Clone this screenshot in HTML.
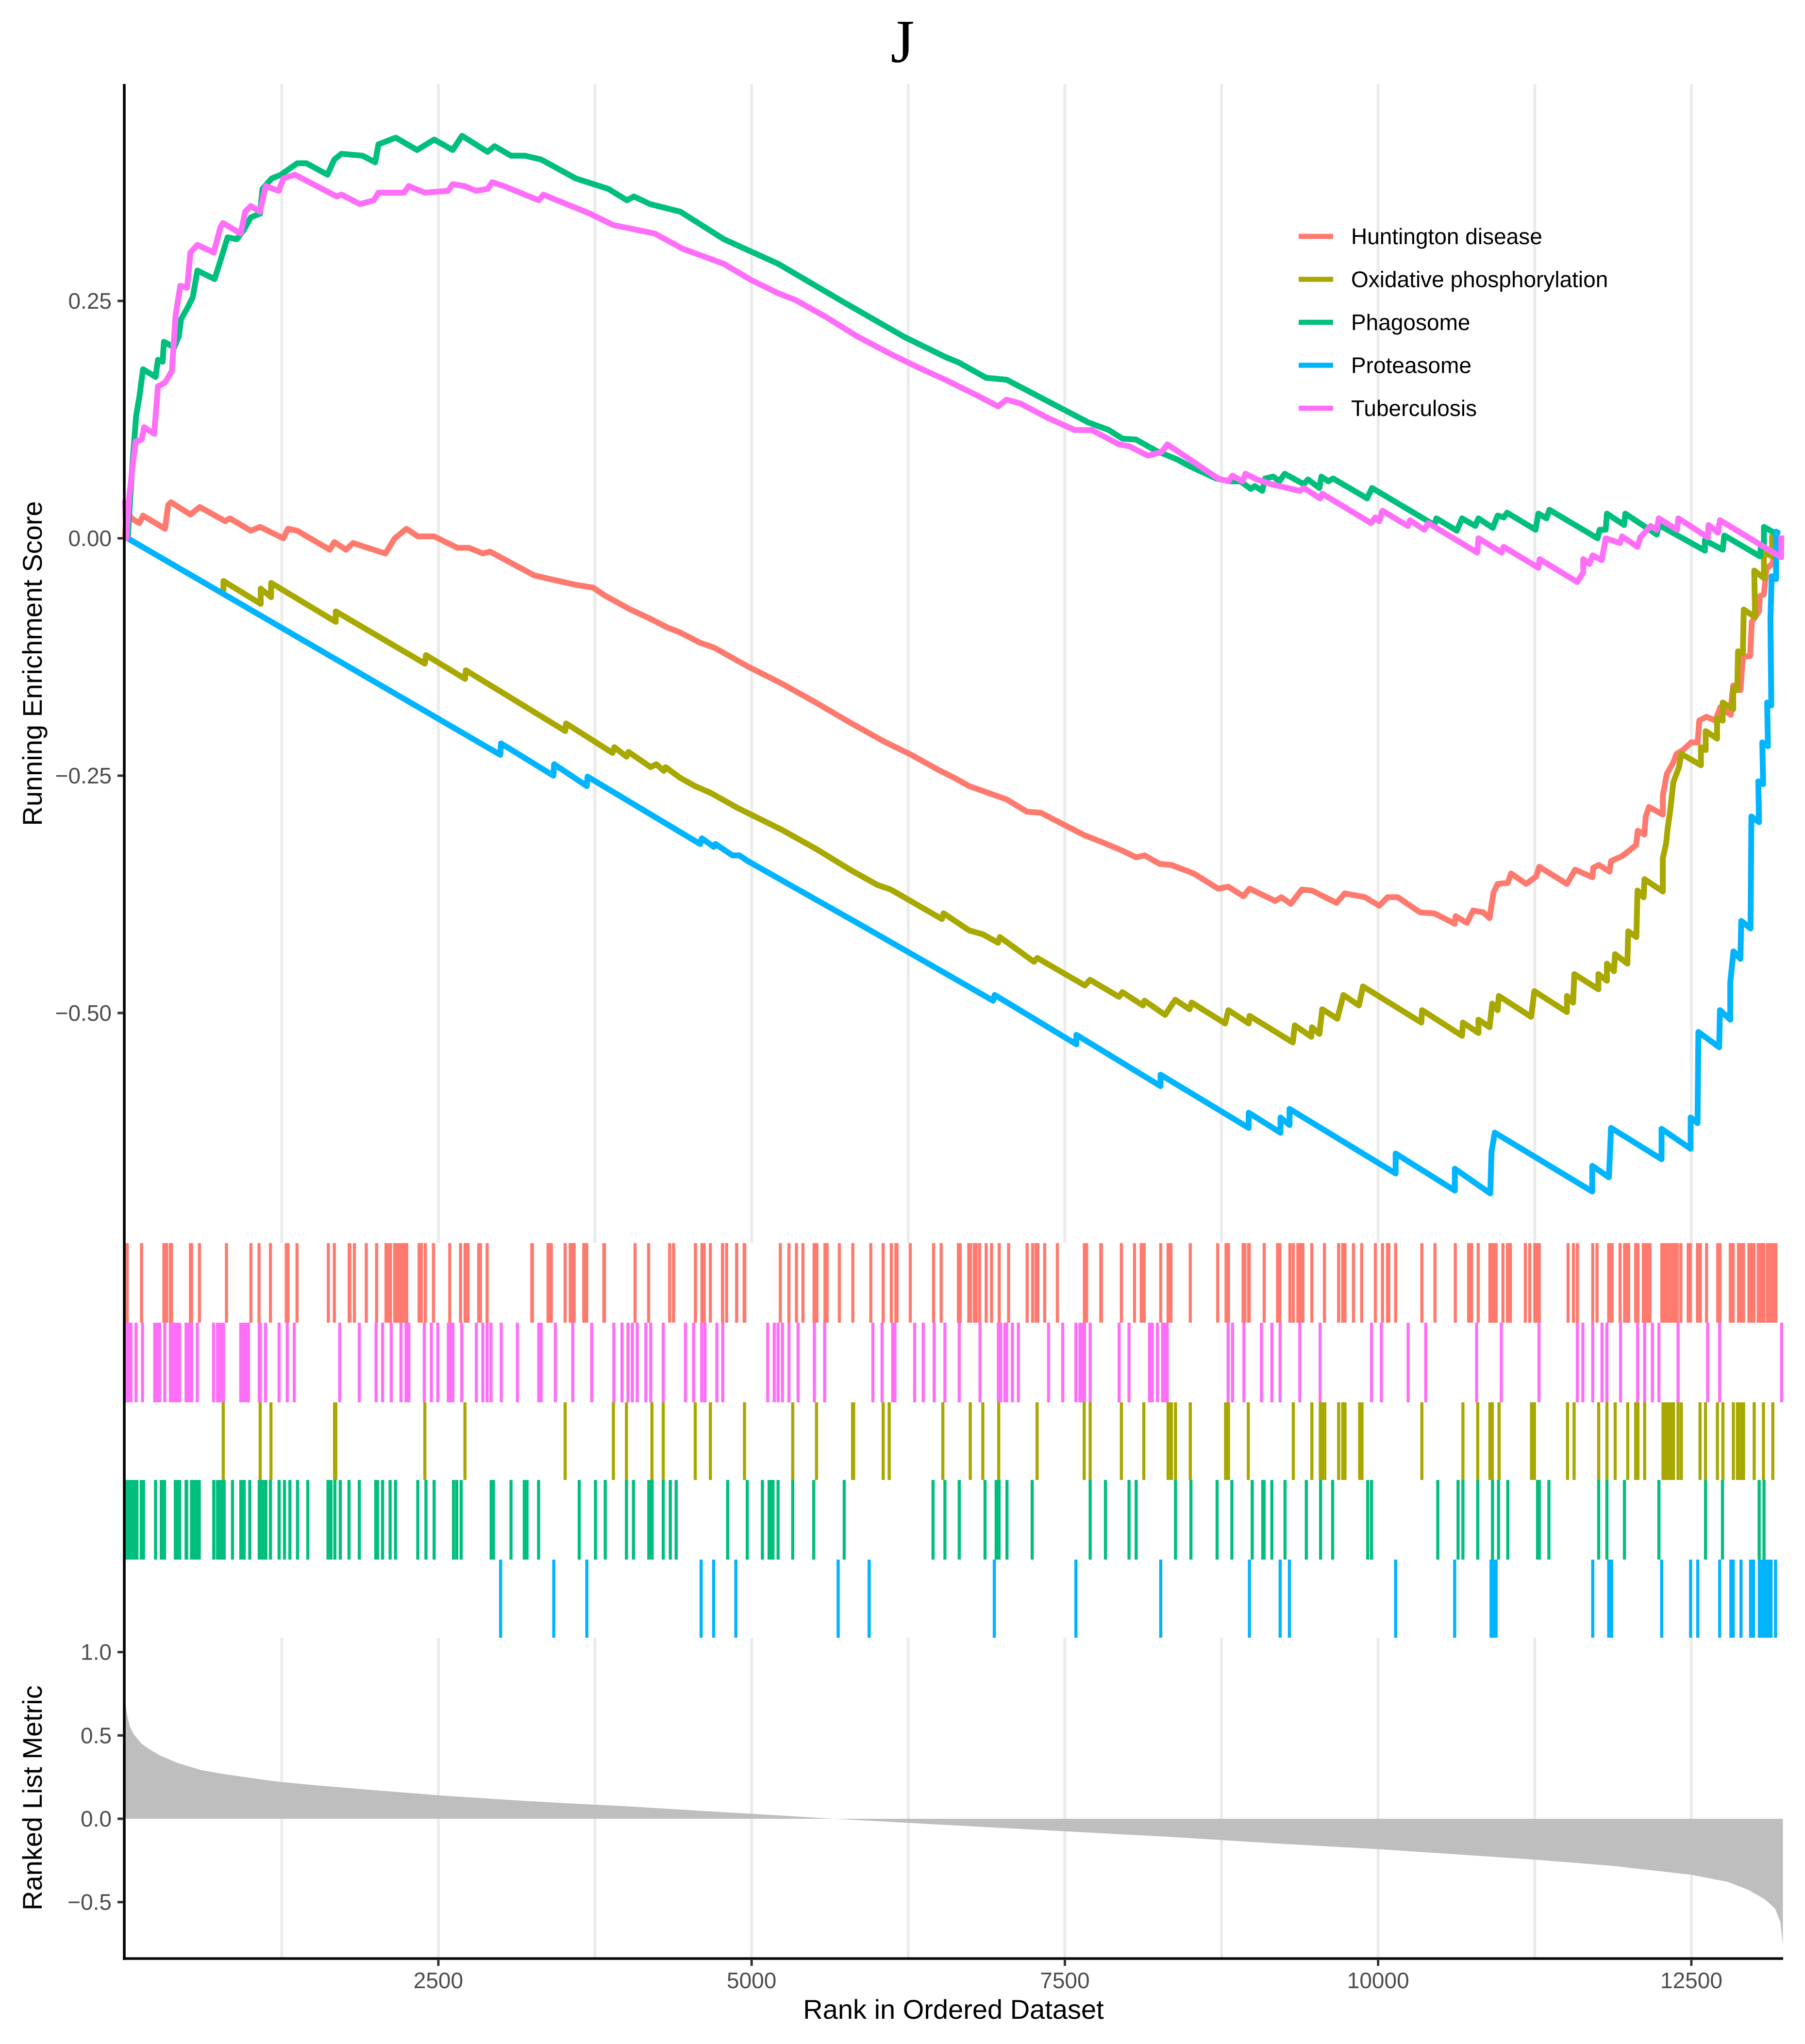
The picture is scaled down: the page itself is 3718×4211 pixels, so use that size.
<!DOCTYPE html>
<html lang="en">
<head>
<meta charset="utf-8">
<title>GSEA running enrichment score plot</title>
<style>
html,body{margin:0;padding:0;background:#fff;}
svg{display:block;}
text{font-family:"Liberation Sans",sans-serif;}
</style>
</head>
<body>
<svg id="chart" xmlns="http://www.w3.org/2000/svg" width="3718" height="4211" viewBox="0 0 3718 4211">
  <rect x="0" y="0" width="3718" height="4211" fill="#ffffff"/>
  <text x="1859" y="128" text-anchor="middle" style="font-family:'Liberation Serif',serif;font-size:126px;" fill="#000000">J</text>
  <text transform="translate(86,1367) rotate(-90)" text-anchor="middle" font-size="56" fill="#000000">Running Enrichment Score</text>
  <text transform="translate(86,3704) rotate(-90)" text-anchor="middle" font-size="56" fill="#000000">Ranked List Metric</text>
  <text x="1964" y="4159" text-anchor="middle" font-size="56" fill="#000000">Rank in Ordered Dataset</text>
  <g id="grid"></g>
  <g id="metric"></g>
  <g id="rugs"></g>
  <g id="curves"></g>
  <g id="axes"></g>
  <g id="legend"></g>
</svg>
<script>
const xTickValues = [2500, 5000, 7500, 10000, 12500];
const xTickLabels = ["2500", "5000", "7500", "10000", "12500"];
const gridRanks = [1250, 2500, 3750, 5000, 6250, 7500, 8750, 10000, 11250, 12500];
const scoreTickValues = [0.25, 0, -0.25, -0.5];
const scoreTickLabels = ["0.25", "0.00", "\u22120.25", "\u22120.50"];
const metricTickValues = [1, 0.5, 0, -0.5];
const metricTickLabels = ["1.0", "0.5", "0.0", "\u22120.5"];
const legendLabels = ["Huntington disease", "Oxidative phosphorylation", "Phagosome", "Proteasome", "Tuberculosis"];

const huntingtonCurve = [[0,0],[10,.03],[51,.021],[114,.016],[143,.024],[318,.010],[344,.035],[366,.038],[521,.025],[596,.033],[799,.018],[836,.021],[1003,.008],[1077,.012],[1263,0],[1300,.010],[1374,.008],[1633,-.012],[1670,-.004],[1763,-.012],[1819,-.005],[2078,-.016],[2152,0],[2245,.010],[2337,.002],[2467,.002],[2652,-.010],[2745,-.010],[2856,-.016],[2912,-.014],[3264,-.039],[3394,-.043],[3597,-.049],[3736,-.052],[3825,-.060],[4032,-.075],[4180,-.084],[4329,-.094],[4426,-.099],[4589,-.110],[4698,-.115],[4970,-.135],[5241,-.153],[5513,-.173],[5785,-.194],[6057,-.214],[6274,-.228],[6492,-.244],[6628,-.253],[6736,-.261],[7035,-.275],[7198,-.288],[7307,-.289],[7497,-.302],[7660,-.313],[7796,-.320],[7959,-.329],[8068,-.336],[8136,-.334],[8258,-.343],[8349,-.344],[8528,-.353],[8723,-.369],[8805,-.367],[8925,-.377],[8974,-.369],[9179,-.382],[9228,-.378],[9303,-.385],[9391,-.370],[9472,-.371],[9668,-.384],[9733,-.374],[9895,-.378],[10009,-.387],[10075,-.378],[10156,-.378],[10335,-.394],[10449,-.395],[10612,-.406],[10618,-.398],[10709,-.405],[10758,-.392],[10840,-.394],[10889,-.400],[10921,-.373],[10954,-.364],[11035,-.363],[11061,-.353],[11182,-.364],[11263,-.356],[11286,-.346],[11507,-.364],[11572,-.349],[11710,-.357],[11717,-.347],[11762,-.344],[11846,-.351],[11859,-.340],[11943,-.335],[11994,-.330],[12059,-.323],[12072,-.308],[12124,-.312],[12136,-.293],[12162,-.283],[12272,-.291],[12272,-.271],[12304,-.248],[12356,-.236],[12382,-.227],[12433,-.223],[12498,-.215],[12550,-.215],[12563,-.192],[12621,-.188],[12692,-.192],[12731,-.178],[12815,-.186],[12821,-.171],[12834,-.155],[12892,-.160],[12911,-.125],[12969,-.124],[12982,-.088],[13040,-.077],[13047,-.061],[13079,-.059],[13099,-.032],[13144,-.027],[13180,-.01]];

const oxidativeCurve = [[785,-.056],[785,-.045],[1082,-.069],[1082,-.053],[1165,-.062],[1165,-.047],[1681,-.088],[1681,-.077],[2392,-.132],[2401,-.123],[2713,-.148],[2719,-.139],[3513,-.203],[3519,-.195],[3890,-.226],[3905,-.220],[4002,-.230],[4017,-.225],[4195,-.241],[4240,-.238],[4299,-.245],[4314,-.241],[4426,-.252],[4548,-.261],[4671,-.268],[4888,-.284],[5241,-.307],[5513,-.327],[5785,-.349],[6002,-.365],[6111,-.370],[6519,-.401],[6532,-.395],[6736,-.413],[6845,-.417],[6967,-.426],[6981,-.420],[7253,-.446],[7280,-.442],[7660,-.471],[7701,-.465],[7932,-.483],[7959,-.478],[8123,-.492],[8136,-.487],[8300,-.502],[8381,-.486],[8495,-.496],[8512,-.489],[8779,-.511],[8805,-.497],[8967,-.511],[8974,-.503],[9319,-.531],[9335,-.513],[9466,-.525],[9472,-.515],[9531,-.522],[9554,-.496],[9674,-.506],[9723,-.481],[9847,-.492],[9879,-.472],[10345,-.510],[10351,-.497],[10670,-.524],[10677,-.510],[10801,-.521],[10801,-.507],[10889,-.515],[10911,-.490],[10954,-.497],[10963,-.482],[11221,-.504],[11247,-.477],[11507,-.499],[11507,-.482],[11556,-.489],[11566,-.459],[11758,-.475],[11758,-.459],[11826,-.466],[11826,-.448],[11882,-.456],[11891,-.438],[11989,-.448],[11996,-.414],[12061,-.420],[12070,-.371],[12119,-.378],[12126,-.359],[12272,-.372],[12272,-.337],[12298,-.322],[12311,-.305],[12330,-.288],[12356,-.257],[12401,-.241],[12420,-.227],[12576,-.239],[12576,-.220],[12614,-.223],[12614,-.203],[12705,-.211],[12705,-.190],[12750,-.192],[12750,-.173],[12834,-.180],[12834,-.158],[12866,-.160],[12872,-.119],[12911,-.121],[12918,-.075],[13008,-.083],[13002,-.034],[13079,-.042],[13079,-.015],[13144,-.019],[13144,.002],[13190,0]];

const phagosomeCurve = [[0,0],[21,0],[58,.078],[88,.129],[114,.149],[143,.178],[243,.170],[262,.188],[299,.186],[310,.207],[392,.201],[429,.213],[447,.231],[503,.244],[540,.254],[577,.282],[714,.273],[762,.293],[818,.317],[892,.315],[948,.325],[1003,.338],[1077,.342],[1096,.368],[1170,.379],[1244,.383],[1374,.395],[1448,.395],[1615,.383],[1670,.399],[1726,.405],[1893,.403],[1996,.396],[2022,.415],[2160,.422],[2330,.409],[2467,.420],[2615,.409],[2689,.424],[2893,.407],[2949,.413],[3079,.403],[3190,.403],[3320,.399],[3597,.379],[3857,.368],[4005,.356],[4061,.360],[4190,.352],[4431,.344],[4779,.315],[5214,.289],[5731,.249],[6220,.212],[6546,.191],[6655,.185],[6872,.169],[7035,.167],[7253,.152],[7688,.122],[7851,.114],[7959,.105],[8068,.104],[8231,.092],[8398,.083],[8495,.076],[8707,.063],[8821,.060],[8902,.060],[8984,.052],[9016,.055],[9075,.050],[9098,.063],[9163,.065],[9212,.060],[9254,.068],[9407,.057],[9440,.062],[9531,.053],[9547,.065],[9602,.060],[9641,.063],[9912,.042],[9951,.053],[10449,.014],[10465,.021],[10628,.008],[10670,.021],[10775,.013],[10801,.021],[10915,.011],[10954,.024],[11003,.022],[11029,.027],[11256,.009],[11279,.026],[11344,.021],[11367,.030],[11751,0],[11768,.009],[11816,.009],[11826,.026],[11963,.014],[11973,.026],[12224,.004],[12240,.014],[12608,-.013],[12608,-.002],[12750,-.012],[12763,.003],[13047,-.019],[13055,-.009],[13079,-.009],[13079,.012],[13202,.003]];

const proteasomeCurve = [[20,0],[2994,-.228],[3000,-.216],[3418,-.250],[3424,-.238],[3685,-.261],[3691,-.251],[4589,-.322],[4603,-.316],[4698,-.325],[4712,-.322],[4847,-.334],[4902,-.334],[4970,-.340],[5948,-.413],[6927,-.487],[6940,-.481],[7592,-.533],[7592,-.523],[8264,-.577],[8264,-.565],[8967,-.621],[8967,-.605],[9221,-.626],[9221,-.610],[9293,-.618],[9293,-.601],[10140,-.669],[10140,-.648],[10612,-.687],[10612,-.664],[10895,-.690],[10905,-.646],[10931,-.626],[11709,-.688],[11709,-.661],[11842,-.673],[11859,-.621],[12262,-.654],[12262,-.622],[12494,-.643],[12494,-.610],[12549,-.616],[12556,-.520],[12722,-.536],[12728,-.497],[12810,-.507],[12810,-.468],[12836,-.435],[12891,-.443],[12898,-.403],[12972,-.411],[12979,-.293],[13040,-.299],[13034,-.256],[13073,-.259],[13066,-.215],[13111,-.219],[13105,-.173],[13138,-.176],[13131,-.086],[13141,-.040],[13176,-.043],[13176,.007],[13202,.005]];

const tuberculosisCurve = [[0,.04],[10,0],[32,.043],[58,.074],[84,.102],[132,.104],[151,.117],[232,.110],[262,.160],[318,.164],[373,.176],[403,.235],[440,.266],[495,.264],[521,.301],[577,.309],[707,.301],[762,.328],[781,.332],[922,.321],[959,.344],[1003,.350],[1077,.344],[1122,.371],[1226,.366],[1263,.379],[1355,.383],[1689,.360],[1726,.362],[1874,.352],[1985,.356],[2022,.364],[2226,.364],[2263,.371],[2393,.364],[2578,.366],[2615,.373],[2708,.371],[2801,.366],[2893,.368],[2930,.375],[3023,.371],[3301,.356],[3338,.362],[3449,.356],[3709,.342],[3894,.330],[4079,.325],[4227,.321],[4450,.305],[4616,.297],[4779,.289],[4997,.272],[5214,.258],[5350,.251],[5595,.233],[5839,.213],[6111,.194],[6329,.180],[6546,.167],[6791,.151],[6967,.139],[7035,.146],[7144,.142],[7361,.127],[7579,.114],[7715,.114],[7932,.099],[8014,.097],[8163,.087],[8272,.091],[8318,.099],[8723,.063],[8805,.060],[8837,.066],[8919,.060],[8941,.068],[9033,.062],[9147,.057],[9374,.050],[9407,.053],[9537,.042],[9554,.047],[9944,.016],[9977,.022],[10009,.018],[10035,.029],[10237,.013],[10254,.019],[10368,.009],[10400,.016],[10791,-.015],[10801,0],[10986,-.015],[11002,-.009],[11279,-.031],[11289,-.022],[11589,-.046],[11637,-.036],[11637,-.022],[11686,-.027],[11712,-.018],[11784,-.023],[11816,0],[11930,-.005],[11947,.002],[12070,-.009],[12093,.001],[12175,.013],[12224,.009],[12240,.021],[12386,.009],[12396,.021],[12631,.001],[12637,.014],[12712,.006],[12728,.019],[13217,-.020],[13217,.003]];

const huntingtonHits = [[0,27],131,[299,342],[351,381],[511,541],593,809,1004,1069,1160,[1276,1311],1372,1622,1670,[1778,1804],1830,1925,2007,[2072,2128],[2141,2258],[2336,2375],2396,2461,2591,2677,[2703,2747],[2812,2846],2889,[3235,3261],[3365,3412],3512,[3542,3594],[3650,3694],[3810,3836],4070,4178,4346,4377,[4541,4563],[4593,4632],4671,[4757,4779],4801,[4870,4892],[4930,4956],5229,5298,5358,5410,[5488,5531],[5575,5613],5700,5808,5951,6050,6115,[6141,6171],6266,6452,6513,[6640,6675],[6723,6758],[6767,6802],6819,6872,6915,6976,7051,7199,7243,[7260,7295],7339,7440,[7645,7684],[7776,7802],7951,8056,[8099,8143],8265,[8313,8357],8501,8720,[8776,8816],[8912,8947],[8956,8982],9091,[9187,9226],9296,9323,[9349,9410],9471,9572,9685,[9707,9746],9803,9869,9978,10035,[10065,10096],10140,10349,10454,10616,[10712,10756],10799,[10882,10952],10996,[11022,11066],11175,11210,[11240,11297],11516,11559,11590,11713,11747,[11830,11878],11931,[11957,12010],[12045,12084],[12106,12180],[12254,12398],12416,[12464,12503],[12538,12582],12621,[12700,12739],[12800,12844],[12866,12927],[12949,13010],[13023,13089],[13097,13185]];

const tuberculosisHits = [[0,57],87,139,[226,286],317,[351,446],[476,541],576,706,[727,796],[913,995],[1060,1090],1121,1229,1294,1350,1713,1869,2003,2055,2124,2202,[2232,2275],2388,2444,2496,[2569,2626],2686,2803,2855,2889,2920,3002,3131,[3291,3330],3434,3573,3724,3901,3966,4014,4048,4087,4156,4195,4295,4472,4537,4602,4628,4723,4770,5129,5181,5211,5246,5298,5371,5501,5583,5968,6041,[6115,6154],6301,6370,6457,6543,6657,6823,[6959,6998],[7011,7046],7081,7129,7370,7483,7588,[7610,7667],7702,7933,8012,[8165,8208],8239,[8270,8327],8803,8838,8929,9069,9152,9218,9375,9537,9947,10026,10240,10380,10786,10983,11284,11590,11634,11713,11787,11826,11935,12071,12127,12189,12241,12394,12630,12726,13220];

const oxidativeHits = [783,1078,1164,[1661,1692],2392,2712,3512,3897,4001,4204,4295,4550,4671,4943,5328,5518,[5795,5825],6050,6098,6526,6745,6845,6972,7278,7654,7702,7951,8130,[8313,8361],8383,8501,[8772,8816],8964,9323,9471,[9528,9585],9685,[9707,9746],[9842,9882],10349,10677,10795,[10882,10922],10965,[11214,11258],11512,11564,11760,11826,11892,11992,[12045,12084],12127,[12263,12368],12394,12420,12569,12613,12708,12752,12835,[12857,12927],13001,13075,13150];

const phagosomeHits = [[0,105],[118,157],243,[278,325],[390,446],[476,502],[520,602],[697,719],[727,801],857,[913,961],995,[1060,1134],1160,1229,1272,1315,1376,1458,[1609,1653],1674,1717,1787,1869,[1990,2025],2055,2115,2158,2336,2401,2466,2621,2647,2682,[2911,2950],3080,[3175,3218],3300,3624,3754,3832,4001,4057,[4169,4217],4295,4351,4398,4809,4965,5086,[5129,5181],5211,5328,5496,5739,6448,6543,6657,6863,[6941,6985],7038,7239,7702,7824,8012,8069,8383,8506,8715,8833,8995,[9069,9100],9152,9257,9427,9541,9637,9917,9947,10476,10638,10677,10795,10913,10961,11035,[11262,11297],11363,11760,11826,11966,12241,12613,12748,13041,13080];

const proteasomeHits = [2997,3421,3685,4597,4697,4874,5691,5938,6937,7588,8265,8973,9218,9292,10140,10611,[10891,10952],11713,[11830,11874],12263,12494,12551,12726,[12805,12844],12896,[12962,13006],[13032,13146],13172];

const metricRanks = [0,19,40,69,129,188,277,425,603,781,1078,1240,1522,1967,2500,3153,3651,4000,4500,5000,5400,5660,6500,7500,8300,8756,9277,9993,10579,11247,11882,12500,12793,12956,13086,13168,13210,13230];
const metricValues = [.708,.612,.548,.508,.452,.42,.38,.333,.293,.269,.237,.221,.201,.173,.141,.109,.088,.075,.052,.03,.012,0,-.035,-.075,-.107,-.128,-.152,-.182,-.211,-.245,-.283,-.336,-.379,-.427,-.483,-.539,-.619,-.755];

const NS = "http://www.w3.org/2000/svg";
function x(rank){ return 257.7 + 0.2581 * rank; }
function yScore(s){ return 1109 - 1956 * s; }
function yMetric(m){ return 3747 - 343.4 * m; }
function make(tag, parent){ const el = document.createElementNS(NS, tag); parent.appendChild(el); return el; }

const gridG = document.getElementById("grid");
gridRanks.forEach(function(r){
  const top = make("line", gridG);
  
  
  top.setAttribute("x1", x(r)); top.setAttribute("x2", x(r));
  top.setAttribute("y1", 173); top.setAttribute("y2", 2561);
  top.setAttribute("stroke", "#ebebeb"); top.setAttribute("stroke-width", 6);
  const low = make("line", gridG);
  
  
  low.setAttribute("x1", x(r)); low.setAttribute("x2", x(r));
  low.setAttribute("y1", 3374); low.setAttribute("y2", 4035);
  low.setAttribute("stroke", "#ebebeb"); low.setAttribute("stroke-width", 6);
});

const metricG = document.getElementById("metric");
const area = make("path", metricG);


let areaD = "M" + x(metricRanks[0]).toFixed(1) + " " + yMetric(0).toFixed(1);
metricRanks.forEach(function(r, i){
  areaD += "L" + x(r).toFixed(1) + " " + yMetric(metricValues[i]).toFixed(1);
});
areaD += "L" + x(metricRanks[metricRanks.length - 1]).toFixed(1) + " " + yMetric(0).toFixed(1) + "Z";
area.setAttribute("d", areaD);
area.setAttribute("fill", "#bebebe");

const rugG = document.getElementById("rugs");
function drawRug(hits, rowTop, rowBottom, color, name){
  const row = make("g", rugG);
  row.setAttribute("fill", color);
  
  
  hits.forEach(function(h){
    const rect = make("rect", row);
    
    
    const a = Array.isArray(h) ? x(h[0]) - 0.5 : x(h) - 3.2;
    const b = Array.isArray(h) ? x(h[1]) + 0.5 : x(h) + 3.2;
    rect.setAttribute("x", a.toFixed(1));
    rect.setAttribute("y", rowTop);
    rect.setAttribute("width", (b - a).toFixed(1));
    rect.setAttribute("height", rowBottom - rowTop);
  });
}
drawRug(huntingtonHits, 2561, 2725, "#ff7a6e", "rug-huntington-disease");
drawRug(tuberculosisHits, 2725, 2889, "#ff6ef8", "rug-tuberculosis");
drawRug(oxidativeHits, 2889, 3049, "#a8a800", "rug-oxidative-phosphorylation");
drawRug(phagosomeHits, 3049, 3213, "#00bf7d", "rug-phagosome");
drawRug(proteasomeHits, 3213, 3374, "#00b4ff", "rug-proteasome");

const curveG = document.getElementById("curves");
function drawCurve(points, color, name){
  const path = make("path", curveG);
  
  
  let d = "";
  points.forEach(function(p, i){
    d += (i ? "L" : "M") + x(p[0]).toFixed(1) + " " + yScore(p[1]).toFixed(1);
  });
  path.setAttribute("d", d);
  path.setAttribute("fill", "none");
  path.setAttribute("stroke", color);
  path.setAttribute("stroke-width", 12);
  path.setAttribute("stroke-linejoin", "round");
}
drawCurve(huntingtonCurve, "#ff7a6e", "curve-huntington-disease");
drawCurve(oxidativeCurve, "#a8a800", "curve-oxidative-phosphorylation");
drawCurve(phagosomeCurve, "#00bf7d", "curve-phagosome");
drawCurve(proteasomeCurve, "#00b4ff", "curve-proteasome");
drawCurve(tuberculosisCurve, "#ff6ef8", "curve-tuberculosis");

const axesG = document.getElementById("axes");
const yAxisLine = make("line", axesG);


yAxisLine.setAttribute("x1", 256); yAxisLine.setAttribute("x2", 256);
yAxisLine.setAttribute("y1", 173); yAxisLine.setAttribute("y2", 4038);
yAxisLine.setAttribute("stroke", "#000000"); yAxisLine.setAttribute("stroke-width", 5.5);
const xAxisLine = make("line", axesG);


xAxisLine.setAttribute("x1", 253); xAxisLine.setAttribute("x2", 3673);
xAxisLine.setAttribute("y1", 4035); xAxisLine.setAttribute("y2", 4035);
xAxisLine.setAttribute("stroke", "#0a0a0a"); xAxisLine.setAttribute("stroke-width", 5.5);

function drawYTick(yPos, label, tickName, labelName){
  const t = make("line", axesG);
  
  
  t.setAttribute("x1", 242); t.setAttribute("x2", 254);
  t.setAttribute("y1", yPos); t.setAttribute("y2", yPos);
  t.setAttribute("stroke", "#333333"); t.setAttribute("stroke-width", 5);
  const txt = make("text", axesG);
  
  
  txt.setAttribute("x", 230); txt.setAttribute("y", yPos + 16);
  txt.setAttribute("text-anchor", "end");
  txt.setAttribute("font-size", 46);
  txt.setAttribute("fill", "#4d4d4d");
  txt.textContent = label;
}
scoreTickValues.forEach(function(v, i){
  drawYTick(yScore(v), scoreTickLabels[i], "score-axis-tick", "score-axis-tick-label");
});
metricTickValues.forEach(function(v, i){
  drawYTick(yMetric(v), metricTickLabels[i], "metric-axis-tick", "metric-axis-tick-label");
});
xTickValues.forEach(function(v, i){
  const t = make("line", axesG);
  
  
  t.setAttribute("x1", x(v)); t.setAttribute("x2", x(v));
  t.setAttribute("y1", 4036); t.setAttribute("y2", 4050);
  t.setAttribute("stroke", "#333333"); t.setAttribute("stroke-width", 5);
  const txt = make("text", axesG);
  
  
  txt.setAttribute("x", x(v)); txt.setAttribute("y", 4096);
  txt.setAttribute("text-anchor", "middle");
  txt.setAttribute("font-size", 46);
  txt.setAttribute("fill", "#4d4d4d");
  txt.textContent = xTickLabels[i];
});

const legendColors = ["#ff7a6e", "#a8a800", "#00bf7d", "#00b4ff", "#ff6ef8"];
const legendG = document.getElementById("legend");
legendLabels.forEach(function(label, i){
  const keyY = 487 + i * 88.5;
  const key = make("line", legendG);
  
  
  key.setAttribute("x1", 2675); key.setAttribute("x2", 2746);
  key.setAttribute("y1", keyY); key.setAttribute("y2", keyY);
  key.setAttribute("stroke", legendColors[i]); key.setAttribute("stroke-width", 10.5);
  const txt = make("text", legendG);
  
  
  txt.setAttribute("x", 2783); txt.setAttribute("y", keyY + 16);
  txt.setAttribute("font-size", 46);
  txt.setAttribute("fill", "#000000");
  txt.textContent = label;
});
</script>
</body>
</html>
